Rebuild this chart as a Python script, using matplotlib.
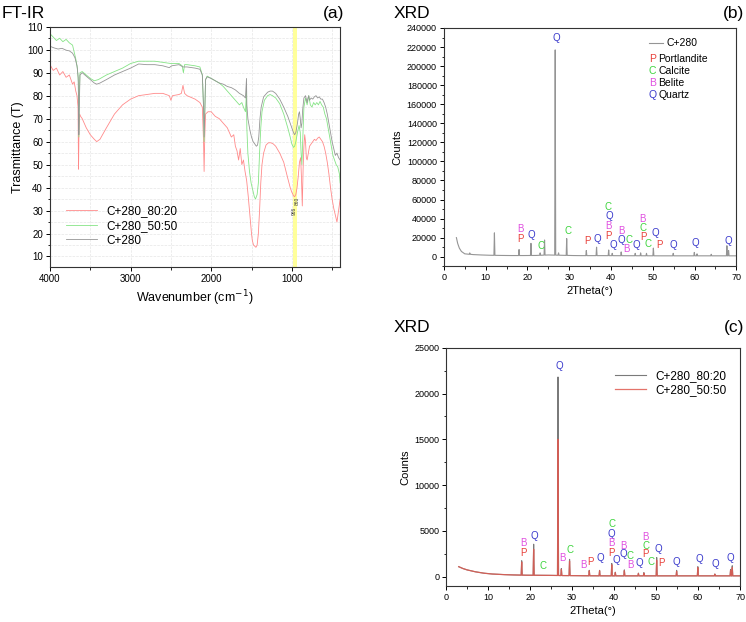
import numpy as np
import matplotlib
matplotlib.use("Agg")
import matplotlib.pyplot as plt
from matplotlib.ticker import MultipleLocator

plt.rcParams['font.family'] = ['Liberation Sans', 'DejaVu Sans']

# ---------------- FT-IR data (wavenumber, transmittance) ----------------
gray_wn = [4000, 3950, 3900, 3850, 3800, 3760, 3720, 3690, 3665, 3650,
           3642, 3636, 3628, 3600, 3550, 3500, 3450, 3420, 3380, 3300,
           3200, 3100, 3000, 2900, 2800, 2700, 2600, 2520, 2490, 2400,
           2350, 2300, 2200, 2140, 2110, 2095, 2088, 2080, 2070, 2050,
           2000, 1950, 1900, 1850, 1800, 1750, 1700, 1650, 1600, 1575,
           1562, 1558, 1545, 1520, 1500, 1480, 1460, 1440, 1425, 1410,
           1395, 1380, 1350, 1300, 1270, 1240, 1200, 1150, 1100, 1050,
           1020, 1000, 980, 965, 950, 930, 915, 905, 895, 885,
           875, 865, 850, 830, 810, 800, 790, 780, 760, 740,
           720, 700, 680, 660, 640, 620, 600, 580, 560, 540,
           520, 500, 480, 460, 440, 420, 400]
gray_t = [101.5, 100.8, 100.3, 100.6, 99.8, 99.5, 98.5, 96.5, 93, 88,
          63, 75, 89, 90, 88.5, 87, 85.5, 85, 85.5, 87,
          89, 90.5, 92, 93.8, 93.5, 93.5, 93, 92.2, 93, 93.5,
          92.5, 92.5, 92, 91.5, 89, 75, 62, 72, 87, 88.2,
          87.5, 86.5, 85.5, 85, 84, 83.5, 82.5, 81, 80, 79,
          87.5, 76, 70, 65, 62, 60, 59, 58, 58.5, 62,
          70, 75, 79.5, 81.5, 82, 82, 81, 78.5, 75, 71,
          68, 66, 64, 63, 64, 68, 72, 73, 70, 66,
          68, 74, 79, 80, 77, 79, 80, 78, 79, 78.5,
          79.5, 80, 79, 79.5, 78.5, 78.5, 77, 75, 72, 68,
          64, 60, 57, 54, 55, 53, 52]

green_wn = [4000, 3960, 3920, 3880, 3840, 3800, 3760, 3720, 3700, 3680,
            3660, 3648, 3642, 3636, 3628, 3600, 3550, 3500, 3450, 3400,
            3300, 3200, 3100, 3000, 2900, 2800, 2700, 2600, 2500, 2400,
            2360, 2345, 2330, 2300, 2200, 2140, 2110, 2095, 2088, 2080,
            2070, 2050, 2000, 1950, 1900, 1850, 1800, 1750, 1700, 1650,
            1620, 1600, 1575, 1562, 1558, 1545, 1525, 1505, 1485, 1465,
            1450, 1430, 1415, 1400, 1385, 1370, 1340, 1300, 1270, 1240,
            1200, 1150, 1100, 1050, 1020, 1000, 980, 965, 950, 930,
            910, 895, 885, 875, 865, 850, 830, 810, 800, 790,
            770, 750, 730, 710, 690, 670, 650, 630, 610, 590,
            570, 550, 530, 510, 490, 470, 450, 430, 410, 400]
green_t = [107, 105.5, 104, 105, 103.5, 104.5, 103, 102, 99, 96,
           92, 86, 62, 80, 90, 90.5, 89, 87.5, 86.5, 87,
           89, 90.5, 92, 94, 95, 95, 95, 94.5, 94, 94,
           93, 90, 93.5, 93.5, 93, 92.5, 89, 75, 60, 72,
           87, 88.5, 87.5, 86.5, 85.5, 84, 82, 80, 78, 76,
           77, 75, 73, 82, 66, 55, 47, 42, 39, 36,
           35, 37, 42, 55, 66, 73, 78, 80, 80.5, 80,
           79, 76.5, 72, 66, 62, 59, 57.5, 58, 60, 64,
           67, 64, 55, 50, 60, 75, 79, 76, 78, 80,
           76, 75, 77, 76, 77, 76, 77.5, 76, 75, 72,
           70, 66, 62, 58, 54, 52, 50, 49, 46, 42]

red_wn = [4000, 3960, 3920, 3880, 3840, 3800, 3760, 3720, 3700, 3680,
          3665, 3652, 3646, 3640, 3632, 3620, 3600, 3550, 3500, 3450,
          3420, 3380, 3300, 3200, 3100, 3000, 2900, 2800, 2700, 2600,
          2520, 2500, 2480, 2400, 2370, 2350, 2330, 2300, 2200, 2140,
          2110, 2095, 2088, 2080, 2070, 2040, 2000, 1950, 1900, 1850,
          1800, 1750, 1720, 1700, 1680, 1660, 1640, 1620, 1600, 1580,
          1560, 1540, 1520, 1500, 1490, 1475, 1460, 1445, 1430, 1415,
          1400, 1385, 1370, 1350, 1320, 1290, 1260, 1230, 1200, 1150,
          1100, 1050, 1020, 1000, 980, 965, 950, 935, 920, 905,
          890, 880, 870, 860, 850, 840, 830, 820, 810, 800,
          780, 760, 740, 720, 700, 680, 660, 640, 620, 600,
          580, 560, 540, 520, 500, 480, 460, 440, 420, 400]
red_t = [93.5, 91, 92, 89, 90.5, 88, 89, 85, 86, 82,
         80, 75, 48, 65, 72, 71, 70, 66, 63, 61,
         60, 61, 66, 72, 76, 78.5, 80, 80.5, 81, 81,
         80, 78, 80, 80.5, 81, 84.5, 81, 80, 78.5, 77,
         75, 60, 47, 62, 72, 73, 73, 71, 70, 68,
         66, 62, 63, 58, 56, 52, 57, 50, 52, 47,
         43, 36, 28, 20, 17, 15, 14.5, 14, 15, 20,
         30, 42, 50, 55, 58.5, 59.5, 59.5, 59, 58, 55,
         51, 44, 40, 38, 36.5, 36, 37, 40, 45, 51,
         53, 44, 32, 48, 58, 63, 60, 53, 52, 54,
         58, 59, 60, 61, 60.5, 61.5, 62, 61, 60, 58,
         55, 51, 46, 40, 35, 31, 28, 25, 30, 35]

# ---------------- XRD (b): C+280 ----------------
b_base_x = [3.0, 3.3, 3.7, 4.2, 5, 7, 9, 11, 14, 16, 19, 22, 25, 28, 31, 33, 38, 44, 52, 57, 62, 66, 70]
b_base_y = [20000, 14000, 9000, 5500, 3000, 2200, 1800, 1500, 1300, 1200, 1200, 1300, 1800, 1500, 1200,
            1100, 1100, 1000, 900, 900, 900, 900, 900]
b_peak_x = [6.2, 12.1, 18.0, 20.85, 23.05, 24.1, 26.65, 27.45, 29.4, 34.1, 36.55, 39.45,
            40.3, 42.45, 45.8, 47.1, 48.5, 50.15, 54.9, 59.95, 60.6, 64.0, 67.75, 68.15]
b_peak_y = [4000, 25000, 7500, 14000, 4000, 17500, 217000, 4000, 19000, 6500, 10000, 7000,
            3500, 5000, 3500, 4000, 3500, 9000, 3500, 4500, 3000, 2500, 11500, 6500]

# ---------------- XRD (c): blends ----------------
c_base_x = [3.0, 4, 5, 7, 9, 11, 14, 16, 19, 22, 25, 28, 31, 33, 38, 44, 52, 57, 62, 66, 70]
c_base_y = [1100, 900, 750, 540, 390, 300, 230, 200, 170, 160, 150, 130, 120, 110, 100, 100, 100, 100, 100, 100, 100]
c_peak_x = [18.0, 20.85, 26.65, 27.45, 29.4, 34.1, 36.55, 39.45, 40.3, 42.45,
            45.8, 47.1, 50.15, 54.9, 59.95, 64.0, 67.75, 68.15]
c8020_peak_y = [1750, 3550, 21800, 900, 1900, 700, 700, 1450, 500, 750,
                400, 450, 2100, 700, 1100, 300, 800, 1200]
c5050_peak_y = [1600, 3000, 15000, 800, 1700, 650, 650, 1300, 450, 650,
                350, 400, 1800, 600, 1000, 280, 700, 1000]

# ---------------- phase labels ----------------
phase_colors = {'P': '#e8403a', 'C': '#3ed43e', 'B': '#e050e0', 'Q': '#3a3acc'}
b_lab = ['B', 'P', 'Q', 'C', 'Q', 'C', 'P', 'Q', 'C', 'Q', 'B', 'P', 'Q', 'B', 'Q', 'C', 'B',
         'Q', 'B', 'C', 'P', 'C', 'Q', 'P', 'Q', 'Q', 'Q']
b_lab_x = [18.3, 18.3, 21.0, 23.2, 26.8, 29.6, 34.3, 36.7, 39.4, 39.5, 39.5, 39.5, 40.6, 42.5, 42.5,
           44.3, 43.7, 46.1, 47.5, 47.7, 47.7, 48.9, 50.5, 51.5, 54.9, 60.3, 68.0]
b_lab_y = [28800, 18600, 22800, 11600, 229500, 27400, 16200, 18300, 52000, 42200, 32300, 22100, 12300,
           26700, 17600, 17600, 8100, 12300, 39700, 29900, 21100, 13000, 25000, 12300, 12600, 14000, 16900]

c_lab = ['B', 'P', 'Q', 'C', 'Q', 'B', 'C', 'B', 'P', 'Q', 'C', 'Q', 'B', 'P', 'Q', 'B', 'Q',
         'C', 'B', 'Q', 'B', 'C', 'P', 'C', 'Q', 'P', 'Q', 'Q', 'Q', 'Q']
c_lab_x = [18.4, 18.4, 20.9, 23.1, 26.9, 27.7, 29.6, 32.6, 34.3, 36.7, 39.4, 39.4, 39.4, 39.4, 40.6,
           42.3, 42.3, 43.9, 43.8, 45.9, 47.4, 47.5, 47.5, 48.7, 50.5, 51.4, 54.8, 60.2, 64.1, 67.7]
c_lab_y = [3650, 2550, 4490, 1200, 23000, 2000, 2920, 1240, 1640, 2000, 5730, 4670, 3650, 2550, 1830,
           3400, 2480, 2260, 1280, 1500, 4300, 3360, 2450, 1640, 3000, 1530, 1600, 1930, 1350, 2000]

legend_b = [('P', 'Portlandite'), ('C', 'Calcite'), ('B', 'Belite'), ('Q', 'Quartz')]


def pattern(base_x, base_y, pk_x, pk_y, w=0.12):
    xs = list(base_x)
    ys = list(base_y)
    for p, h in zip(pk_x, pk_y):
        b = np.interp(p, base_x, base_y)
        xs += [p - w, p, p + w]
        ys += [b, h, b]
    order = np.argsort(xs)
    return np.array(xs)[order], np.array(ys)[order]


def style_axes(ax):
    ax.tick_params(direction='out', length=3, width=0.7, labelsize=6.5, pad=2)
    ax.tick_params(which='minor', direction='out', length=1.8, width=0.6)
    for s in ax.spines.values():
        s.set_linewidth(0.8)
        s.set_color('#333333')


fig = plt.figure(figsize=(7.46, 6.22), dpi=100)

# ---------------- (a) FT-IR ----------------
ax1 = fig.add_axes([0.067, 0.571, 0.389, 0.386])
ax1.axvspan(935, 985, color='#ffff90', alpha=0.9, lw=0)
ax1.plot(red_wn, red_t, color='#ff8a8a', lw=0.6, label='C+280_80:20')
ax1.plot(green_wn, green_t, color='#86e486', lw=0.6, label='C+280_50:50')
ax1.plot(gray_wn, gray_t, color='#959595', lw=0.6, label='C+280')
ax1.set_xlim(4000, 400)
ax1.set_ylim(5.5, 110)
ax1.xaxis.set_major_locator(MultipleLocator(1000))
ax1.xaxis.set_minor_locator(MultipleLocator(500))
ax1.yaxis.set_major_locator(MultipleLocator(10))
ax1.yaxis.set_minor_locator(MultipleLocator(5))
ax1.grid(True, which='both', color='#e6e6e6', lw=0.5, ls='--')
ax1.set_axisbelow(True)
style_axes(ax1)
ax1.tick_params(labelsize=7)
ax1.set_xlabel('Wavenumber (cm$^{-1}$)', fontsize=9, labelpad=3)
ax1.set_ylabel('Trasmittance (T)', fontsize=9, labelpad=2)
ax1.text(972, 30, '966', rotation=90, fontsize=3.5, color='#333333', ha='center', va='center')
ax1.text(928, 34, '860', rotation=90, fontsize=3.5, color='#333333', ha='center', va='center')
ax1.legend(loc='lower left', bbox_to_anchor=(0.02, 0.04), frameon=False, fontsize=8.5,
           handlelength=2.6, labelspacing=0.25, handletextpad=0.8)
fig.text(0.002, 0.978, 'FT-IR', fontsize=12.5, va='center', ha='left')
fig.text(0.462, 0.978, '(a)', fontsize=12.5, va='center', ha='right')

# ---------------- (b) XRD ----------------
ax2 = fig.add_axes([0.595, 0.572, 0.392, 0.383])
bx, by = pattern(b_base_x, b_base_y, b_peak_x, b_peak_y)
ax2.plot(bx, by, color='#959595', lw=0.8)
ax2.set_xlim(0, 70)
ax2.set_ylim(-10000, 240000)
ax2.xaxis.set_major_locator(MultipleLocator(10))
ax2.xaxis.set_minor_locator(MultipleLocator(5))
ax2.yaxis.set_major_locator(MultipleLocator(20000))
ax2.yaxis.set_minor_locator(MultipleLocator(10000))
style_axes(ax2)
ax2.set_xlabel('2Theta(°)', fontsize=8, labelpad=3)
ax2.set_ylabel('Counts', fontsize=8, labelpad=3)
for s, x, y in zip(b_lab, b_lab_x, b_lab_y):
    ax2.text(x, y, s, color=phase_colors[s], fontsize=7, ha='center', va='center')
ax2.plot([0.70, 0.75], [0.937, 0.937], color='#959595', lw=0.8, transform=ax2.transAxes)
ax2.text(0.762, 0.937, 'C+280', fontsize=7.5, va='center', transform=ax2.transAxes)
for i, (s, name) in enumerate(legend_b):
    yy = 0.870 - i * 0.05
    ax2.text(0.712, yy, s, color=phase_colors[s], fontsize=7.5, ha='center', va='center',
             transform=ax2.transAxes)
    ax2.text(0.733, yy, name, fontsize=7.5, va='center', transform=ax2.transAxes)
fig.text(0.527, 0.978, 'XRD', fontsize=12.5, va='center', ha='left')
fig.text(0.998, 0.978, '(b)', fontsize=12.5, va='center', ha='right')

# ---------------- (c) XRD ----------------
ax3 = fig.add_axes([0.598, 0.058, 0.394, 0.383])
cx1, cy1 = pattern(c_base_x, c_base_y, c_peak_x, c8020_peak_y)
cx2, cy2 = pattern(c_base_x, c_base_y, c_peak_x, c5050_peak_y)
ax3.plot(cx1, cy1, color='#7a7a7a', lw=0.8, label='C+280_80:20')
ax3.plot(cx2, cy2, color='#e05a50', lw=0.9, alpha=0.85, label='C+280_50:50')
ax3.set_xlim(0, 70)
ax3.set_ylim(-1000, 25000)
ax3.xaxis.set_major_locator(MultipleLocator(10))
ax3.xaxis.set_minor_locator(MultipleLocator(5))
ax3.yaxis.set_major_locator(MultipleLocator(5000))
ax3.yaxis.set_minor_locator(MultipleLocator(2500))
style_axes(ax3)
ax3.set_xlabel('2Theta(°)', fontsize=8, labelpad=3)
ax3.set_ylabel('Counts', fontsize=8, labelpad=3)
for s, x, y in zip(c_lab, c_lab_x, c_lab_y):
    ax3.text(x, y, s, color=phase_colors[s], fontsize=7, ha='center', va='center')
ax3.legend(loc='upper right', bbox_to_anchor=(0.99, 0.95), frameon=False, fontsize=8.5,
           handlelength=2.6, labelspacing=0.15, handletextpad=0.8)
fig.text(0.527, 0.474, 'XRD', fontsize=12.5, va='center', ha='left')
fig.text(0.998, 0.474, '(c)', fontsize=12.5, va='center', ha='right')

fig.savefig('out.png', dpi=100)
